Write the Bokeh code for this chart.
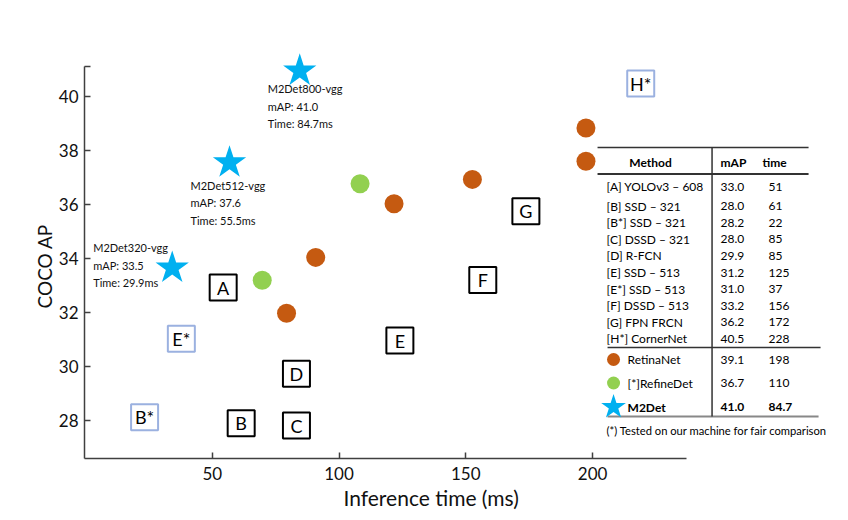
from bokeh.plotting import figure
from bokeh.models import Range1d, FixedTicker, Title
from bokeh.core.properties import value
from bokeh.embed import file_html
from bokeh.resources import INLINE

# ---------------- data ----------------
m2det_names = ["M2Det320-vgg", "M2Det512-vgg", "M2Det800-vgg"]
m2det_time = [34.2, 56.8, 84.5]
m2det_map = [33.65, 37.55, 40.95]
m2det_map_txt = ["33.5", "37.6", "41.0"]
m2det_time_txt = ["29.9", "55.5", "84.7"]

retina_time = [79.3, 90.8, 121.7, 152.6, 197.4, 197.4]
retina_map = [31.97, 34.04, 36.03, 36.93, 37.60, 38.83]

refine_time = [69.7, 108.3]
refine_map = [33.19, 36.77]

box_labels = ["A", "B", "B*", "C", "D", "E", "E*", "F", "G", "H*"]
box_time = [54.3, 61.4, 23.3, 83.2, 83.2, 124.0, 37.8, 156.7, 173.7, 219.0]
box_map = [32.92, 27.90, 28.12, 27.81, 29.73, 30.96, 31.03, 33.20, 35.75, 40.48]
box_tested = [False, False, True, False, False, False, True, False, False, True]

table_methods = ["[A] YOLOv3 \u2013 608", "[B] SSD \u2013 321", "[B*] SSD \u2013 321",
                 "[C] DSSD \u2013 321", "[D] R-FCN", "[E] SSD \u2013 513",
                 "[E*] SSD \u2013 513", "[F] DSSD \u2013 513", "[G] FPN FRCN",
                 "[H*] CornerNet"]
table_map = ["33.0", "28.0", "28.2", "28.0", "29.9", "31.2", "31.0", "33.2", "36.2", "40.5"]
table_time = ["51", "61", "22", "85", "85", "125", "37", "156", "172", "228"]

legend_names = ["RetinaNet", "[*]RefineDet", "M2Det"]
legend_map = ["39.1", "36.7", "41.0"]
legend_time = ["198", "110", "84.7"]

x_ticks = [50, 100, 150, 200]
y_ticks = [28, 30, 32, 34, 36, 38, 40]

# ---------------- style ----------------
FONT = "Lato"
ORANGE = "#c55a11"
GREEN = "#92d050"
BLUE = "#00b0f0"
BOX_BLUE = "#9bb1e0"
AXIS = "#404040"

X0, X1 = -0.4, 297.8
Y0, Y1 = 26.59, 43.26
Y_TOP = 41.12
FRAME_L, FRAME_B = 84, 458          # pixels of frame left / bottom
PX_X = 2.535                        # px per ms
PX_Y = 27.0                         # px per AP


def dx(px):
    return X0 + (px - FRAME_L) / PX_X


def dy(py):
    return Y0 + (FRAME_B - py) / PX_Y


p = figure(width=840, height=512, output_backend="svg", toolbar_location=None,
           x_range=Range1d(X0, X1), y_range=Range1d(Y0, Y1),
           min_border_left=84, min_border_right=0, min_border_top=8,
           min_border_bottom=54)
p.outline_line_color = None
p.grid.visible = False
p.background_fill_color = "white"

for ax in (p.xaxis[0], p.yaxis[0]):
    ax.axis_line_color = AXIS
    ax.axis_line_width = 1.5
    ax.major_tick_line_color = AXIS
    ax.major_tick_line_width = 1.5
    ax.major_tick_in = 6
    ax.major_tick_out = 0
    ax.minor_tick_line_color = None
    ax.major_label_text_font = FONT
    ax.major_label_text_font_size = "17px"
    ax.major_label_text_color = "#111111"

p.xaxis.ticker = FixedTicker(ticks=x_ticks)
p.yaxis.ticker = FixedTicker(ticks=y_ticks + [Y_TOP])
p.yaxis.major_label_overrides = {Y_TOP: ""}
p.xaxis.bounds = (X0, 237)
p.yaxis.bounds = (Y0, Y_TOP)
p.xaxis.major_label_standoff = 8
p.yaxis.major_label_standoff = 6

xt = Title(text="Inference time (ms)", align="left", offset=259, text_font=FONT,
           text_font_size="21px", text_font_style="normal", text_color="#111111",
           standoff=0)
p.add_layout(xt, "below")
yt = Title(text="COCO AP", align="left", offset=150, text_font=FONT,
           text_font_size="19px", text_font_style="normal", text_color="#111111",
           standoff=0)
p.add_layout(yt, "left")

# ---------------- boxes ----------------
box_colors = [BOX_BLUE if t else "black" for t in box_tested]
p.rect(x=box_time, y=box_map, width=27, height=26, width_units="screen",
       height_units="screen", fill_color="white", line_color=box_colors, line_width=2)
p.text(x=box_time, y=box_map, text=box_labels, text_align="center",
       text_baseline="middle", text_font=value(FONT), text_font_size="18px",
       text_color="black")

# ---------------- circles ----------------
p.scatter(x=retina_time, y=retina_map, size=19, color=ORANGE, line_color=None)
p.scatter(x=refine_time, y=refine_map, size=19, color=GREEN, line_color=None)

# ---------------- stars ----------------
p.scatter(x=m2det_time, y=m2det_map, marker="star", size=35, color=BLUE, line_color=None)
star_labels = [f"{n}\nmAP: {m}\nTime: {t}ms" for n, m, t in
               zip(m2det_names, m2det_map_txt, m2det_time_txt)]
p.text(x=m2det_time, y=m2det_map, text=star_labels,
       x_offset=[-79, -39, -32], y_offset=[-27, 16, 11],
       text_align="left", text_baseline="top", text_font=value(FONT),
       text_font_size="11px", text_line_height=1.36, text_color="#111111")

# ---------------- table ----------------
TL, TR, TV = 597, 808, 711.5
p.segment(x0=[dx(TL), dx(TL), dx(607), dx(607), dx(TV)],
          y0=[dy(147), dy(173.5), dy(347), dy(416), dy(147)],
          x1=[dx(TR), dx(TR), dx(820), dx(818), dx(TV)],
          y1=[dy(147), dy(173.5), dy(347), dy(416), dy(416)],
          line_color=["#333333", "#333333", "#333333", "#888888", "#333333"],
          line_width=[1.5, 2, 1.5, 2, 1.5])

TFS = "12px"
p.text(x=[dx(650), dx(720), dx(762)], y=[dy(162)] * 3, text=["Method", "mAP", "time"],
       text_align=["center", "left", "left"], text_baseline="middle",
       text_font=value(FONT), text_font_size=TFS, text_font_style="bold",
       text_color="black")

row_y = [dy(186 + (0 if i == 0 else 3) + i * 16.6) for i in range(len(table_methods))]
p.text(x=[dx(606)] * len(row_y), y=row_y, text=table_methods, text_align="left",
       text_baseline="middle", text_font=value(FONT), text_font_size=TFS,
       text_color="black")
p.text(x=[dx(720)] * len(row_y), y=row_y, text=table_map, text_align="left",
       text_baseline="middle", text_font=value(FONT), text_font_size=TFS,
       text_color="black")
p.text(x=[dx(768)] * len(row_y), y=row_y, text=table_time, text_align="left",
       text_baseline="middle", text_font=value(FONT), text_font_size=TFS,
       text_color="black")

leg_y = [dy(359), dy(382.5), dy(406.5)]
p.scatter(x=[dx(613)] * 2, y=leg_y[:2], size=13, color=[ORANGE, GREEN], line_color=None)
p.scatter(x=[dx(613)], y=[leg_y[2]], marker="star", size=26, color=BLUE, line_color=None)
styles = ["normal", "normal", "bold"]
for col_x, col in ((627, legend_names), (720, legend_map), (768, legend_time)):
    p.text(x=[dx(col_x)] * 3, y=leg_y, text=col, text_align="left",
           text_baseline="middle", text_font=value(FONT), text_font_size=TFS,
           text_font_style=styles, text_color="black")

p.text(x=[dx(606)], y=[dy(429.5)], text=["(*) Tested on our machine for fair comparison"],
       text_align="left", text_baseline="middle", text_font=value(FONT),
       text_font_size="11.2px", text_color="black")

open("out.html", "w").write(file_html(p, INLINE))
